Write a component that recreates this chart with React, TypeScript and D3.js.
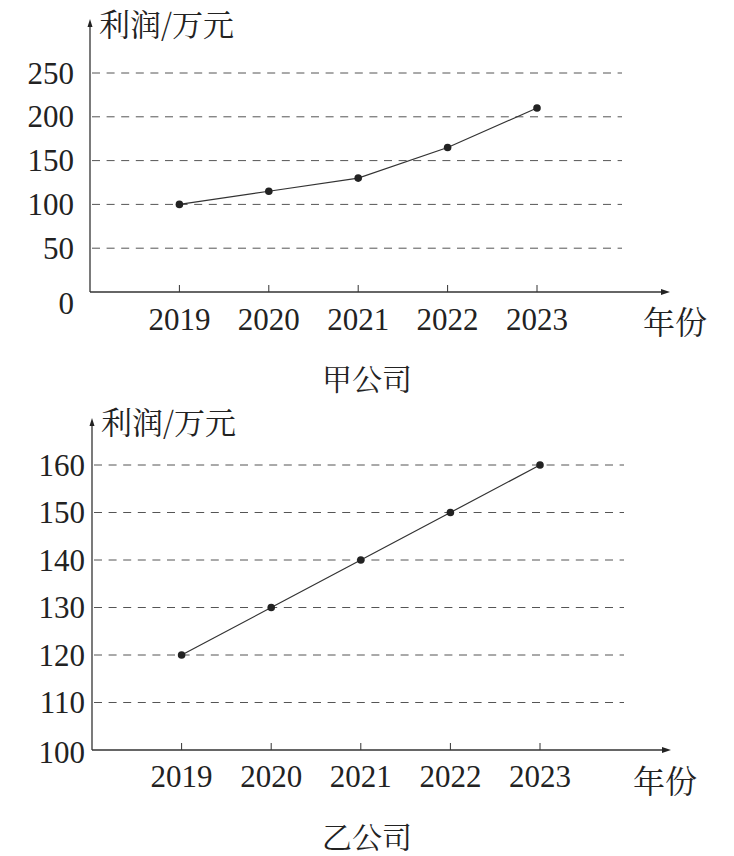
import * as d3 from 'd3';
import React from 'react';

// years on the x axis
const years = [2019, 2020, 2021, 2022, 2023];

// company A profit (万元)
const profitA = [100, 115, 130, 165, 210];
const ticksA = [0, 50, 100, 150, 200, 250];

// company B profit (万元)
const profitB = [120, 130, 140, 150, 160];
const ticksB = [100, 110, 120, 130, 140, 150, 160];

const yTitle = '利润/万元';
const xTitle = '年份';
const titleA = '甲公司';
const titleB = '乙公司';

const numStyle: React.CSSProperties = { fontFamily: '"Liberation Serif"', fontSize: 31, fill: '#222' };
const cjkStyle: React.CSSProperties = { fontFamily: '"Noto Serif CJK SC"', fill: '#222' };

interface PanelProps {
  values: number[];
  ticks: number[];
  title: string;
  originX: number;
  originY: number;
  topY: number;
  axisTop: number;
  lastX: number;
  gridEnd: number;
  arrowEnd: number;
  labelGap: number;
  zeroDy: number;
  yearLabelY: number; // centre of the year labels
  xTitleX: number;
  xTitleY: number; // centres of the CJK titles
  titleY: number;
  yTitleY: number;
}

const Panel: React.FC<PanelProps> = (o) => {
  const x = d3.scaleLinear()
    .domain([years[0] - 1, years[years.length - 1]])
    .range([o.originX, o.lastX]);
  const y = d3.scaleLinear()
    .domain([o.ticks[0], o.ticks[o.ticks.length - 1]])
    .range([o.originY, o.topY]);

  const line = d3.line<number>()
    .x((_, i) => x(years[i]))
    .y(d => y(d));

  return (
    <g>
      {/* dashed gridlines */}
      {o.ticks.slice(1).map(t => (
        <line key={`g${t}`} x1={o.originX + 2} x2={o.gridEnd} y1={y(t)} y2={y(t)}
          stroke="#555" strokeWidth={1} strokeDasharray="8,6.6" />
      ))}

      {/* axes */}
      <line x1={o.originX} x2={o.arrowEnd - 6} y1={o.originY} y2={o.originY} stroke="#333" strokeWidth={1.3} />
      <path d={`M${o.arrowEnd},${o.originY} L${o.arrowEnd - 9},${o.originY - 3} L${o.arrowEnd - 9},${o.originY + 3} Z`} fill="#222" />
      <line x1={o.originX} x2={o.originX} y1={o.originY} y2={o.axisTop + 6} stroke="#333" strokeWidth={1.3} />
      <path d={`M${o.originX},${o.axisTop} L${o.originX - 2.5},${o.axisTop + 8} L${o.originX + 2.5},${o.axisTop + 8} Z`} fill="#222" />

      {/* x ticks and labels */}
      {years.map(yr => (
        <g key={`x${yr}`}>
          <line x1={x(yr)} x2={x(yr)} y1={o.originY} y2={o.originY - 7} stroke="#333" strokeWidth={1} />
          <text x={x(yr)} y={o.yearLabelY + 10.5} textAnchor="middle" style={numStyle}>{yr}</text>
        </g>
      ))}

      {/* y labels */}
      {o.ticks.map((t, i) => (
        <text key={`y${t}`} x={o.originX - o.labelGap} y={y(t) + 10.5 + (i === 0 ? o.zeroDy : 0)}
          textAnchor="end" style={numStyle}>{t}</text>
      ))}

      {/* titles */}
      <text x={o.originX + 9} y={o.yTitleY + 11.5} style={{ ...cjkStyle, fontSize: 31 }}>{yTitle}</text>
      <text x={o.xTitleX} y={o.xTitleY + 12} textAnchor="middle" style={{ ...cjkStyle, fontSize: 32 }}>{xTitle}</text>
      <text x={367} y={o.titleY + 11.5} textAnchor="middle" style={{ ...cjkStyle, fontSize: 30 }}>{o.title}</text>

      {/* series */}
      <path d={line(o.values) || ''} fill="none" stroke="#333" strokeWidth={1.2} />
      {o.values.map((v, i) => (
        <circle key={`p${i}`} cx={x(years[i])} cy={y(v)} r={3.8} fill="#222" />
      ))}
    </g>
  );
};

export default function App() {
  return (
    <div style={{ position: 'absolute', left: 0, top: 0 }}>
      <svg width={734} height={856} style={{ display: 'block', background: '#fff' }}>
        <Panel values={profitA} ticks={ticksA} title={titleA}
          originX={90} originY={292} topY={73} axisTop={19} lastX={537}
          gridEnd={622} arrowEnd={670} labelGap={16} zeroDy={11}
          yearLabelY={319.5} xTitleX={675} xTitleY={322} titleY={378} yTitleY={24} />
        <Panel values={profitB} ticks={ticksB} title={titleB}
          originX={92} originY={750} topY={465} axisTop={418} lastX={540}
          gridEnd={624} arrowEnd={671} labelGap={7} zeroDy={2}
          yearLabelY={776.5} xTitleX={665} xTitleY={781} titleY={836} yTitleY={422.5} />
      </svg>
    </div>
  );
}
